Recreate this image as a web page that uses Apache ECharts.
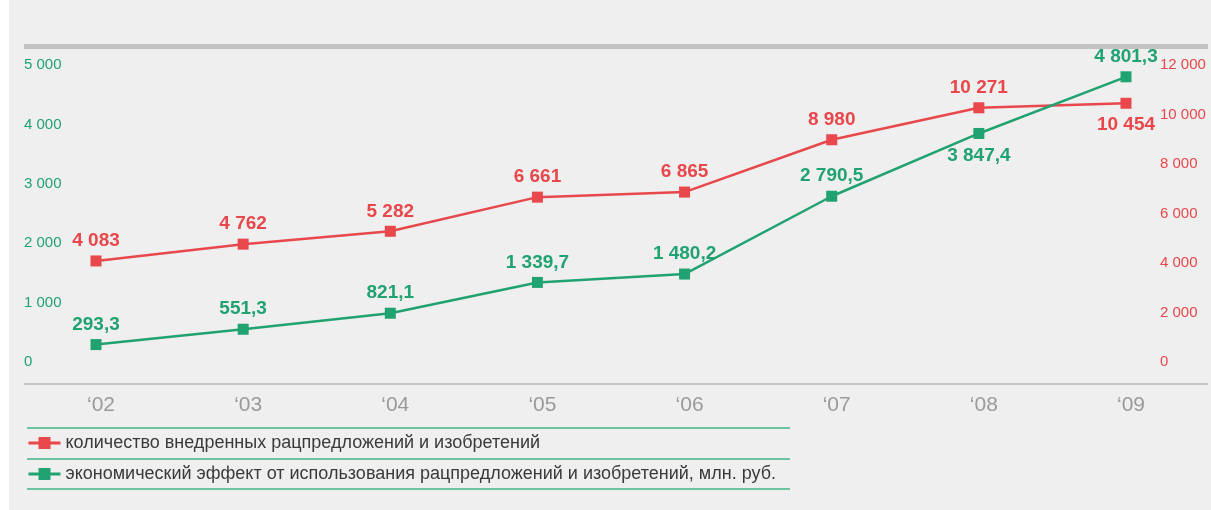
<!DOCTYPE html>
<html><head><meta charset="utf-8">
<script src="https://cdn.jsdelivr.net/npm/echarts@6/dist/echarts.min.js"></script>
<style>html,body{margin:0;padding:0;background:#fff}#c{width:1211px;height:510px}</style>
</head><body><div id="c"></div>
<script>
var categories = ['2002','2003','2004','2005','2006','2007','2008','2009'];
var tickLabels = ['‘02','‘03','‘04','‘05','‘06','‘07','‘08','‘09'];
var proposalsCount = [4083, 4762, 5282, 6661, 6865, 8980, 10271, 10454];
var economicEffect = [293.3, 551.3, 821.1, 1339.7, 1480.2, 2790.5, 3847.4, 4801.3];
var seriesNames = ['количество внедренных рацпредложений и изобретений',
                   'экономический эффект от использования рацпредложений и изобретений, млн. руб.'];
var belowRed = [7];     // indices whose label sits under the point
var belowGreen = [6];

var RED = '#e8474b', GREEN = '#21a271';
function fmt(v, dec){
  var s = v.toFixed(dec).split('.');
  var i = s[0].replace(/\B(?=(\d{3})+(?!\d))/g, ' ');
  return dec ? i + ',' + s[1] : i;
}
function mkData(arr, below){
  return arr.map(function(v, i){
    var b = below.indexOf(i) >= 0;
    return {value: v, label: {position: b ? 'bottom' : 'top', distance: b ? 7 : 5}};
  });
}
var font = '"Liberation Sans", Arial, sans-serif';
var chart = echarts.init(document.getElementById('c'));
chart.setOption({
  backgroundColor: '#efefef',
  animation: false,
  grid: {left: 96, right: 85, top: 65, bottom: 148},
  xAxis: {
    type: 'category', data: categories, boundaryGap: false,
    axisLine: {show: false}, axisTick: {show: false},
    axisLabel: {formatter: function(v, i){ return tickLabels[i]; }, margin: 33,
      color: '#9a9a9a', fontSize: 21, fontFamily: font, padding: [0, 0, 0, 10]}
  },
  yAxis: [
    {type: 'value', min: 0, max: 5000, interval: 1000, position: 'left',
     splitLine: {show: false}, axisLine: {show: false}, axisTick: {show: false},
     axisLabel: {align: 'left', margin: 72, color: GREEN, fontSize: 15, fontFamily: font,
       formatter: function(v){ return fmt(v, 0); }}},
    {type: 'value', min: 0, max: 12000, interval: 2000, position: 'right',
     splitLine: {show: false}, axisLine: {show: false}, axisTick: {show: false},
     axisLabel: {align: 'left', margin: 34, color: RED, fontSize: 15, fontFamily: font,
       formatter: function(v){ return fmt(v, 0); }}}
  ],
  legend: {
    orient: 'vertical', left: 22, top: 429, itemWidth: 32, itemHeight: 15, itemGap: 13,
    textStyle: {fontSize: 18, color: '#3a3a3a', fontFamily: font},
    lineStyle: {width: 3},
    data: seriesNames
  },
  series: [
    {name: seriesNames[0], type: 'line', yAxisIndex: 1, data: mkData(proposalsCount, belowRed),
     symbol: 'rect', symbolSize: 11, color: RED, lineStyle: {width: 2.5, color: RED},
     itemStyle: {color: RED},
     label: {show: true, color: RED, fontSize: 19, fontWeight: 'bold', fontFamily: font,
       formatter: function(p){ return fmt(p.value, 0); }}},
    {name: seriesNames[1], type: 'line', yAxisIndex: 0, data: mkData(economicEffect, belowGreen),
     symbol: 'rect', symbolSize: 11, color: GREEN, lineStyle: {width: 2.5, color: GREEN},
     itemStyle: {color: GREEN},
     label: {show: true, color: GREEN, fontSize: 19, fontWeight: 'bold', fontFamily: font,
       formatter: function(p){ return fmt(p.value, 1); }}}
  ],
  graphic: [
    {type: 'rect', shape: {x: 0, y: 0, width: 9, height: 510}, style: {fill: '#ffffff'}, silent: true},
    {type: 'rect', shape: {x: 24, y: 44, width: 1184, height: 5}, style: {fill: '#c2c2c2'}, silent: true},
    {type: 'rect', shape: {x: 24, y: 383, width: 1184, height: 2}, style: {fill: '#c4c4c4'}, silent: true},
    {type: 'rect', shape: {x: 27, y: 427, width: 763, height: 2}, style: {fill: '#6cc4a0'}, silent: true},
    {type: 'rect', shape: {x: 27, y: 458, width: 763, height: 2}, style: {fill: '#6cc4a0'}, silent: true},
    {type: 'rect', shape: {x: 27, y: 488, width: 763, height: 2}, style: {fill: '#6cc4a0'}, silent: true}
  ]
});
</script></body></html>
